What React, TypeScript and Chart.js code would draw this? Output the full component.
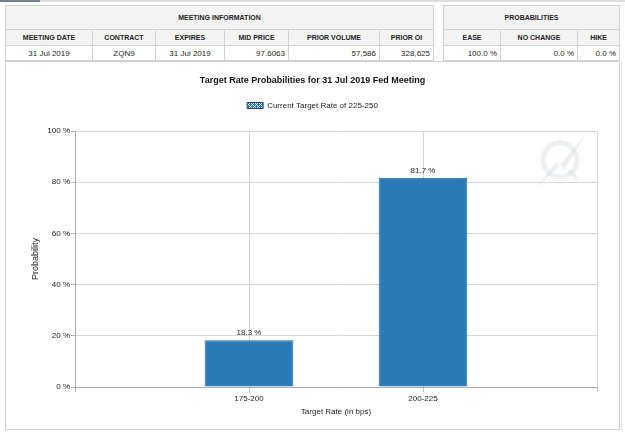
import React, { useEffect, useRef } from 'react';
import { Chart, registerables } from 'chart.js';

Chart.register(...registerables);

// ---- data ----
const rateBuckets = ['175-200', '200-225'];
const probabilities = [18.3, 81.7];
const yTickValues = [0, 20, 40, 60, 80, 100];
const chartTitle = 'Target Rate Probabilities for 31 Jul 2019 Fed Meeting';
const legendLabel = 'Current Target Rate of 225-250';
const xAxisTitle = 'Target Rate (in bps)';
const yAxisTitle = 'Probability';

const meetingHeaders = ['MEETING DATE', 'CONTRACT', 'EXPIRES', 'MID PRICE', 'PRIOR VOLUME', 'PRIOR OI'];
const meetingValues = ['31 Jul 2019', 'ZQN9', '31 Jul 2019', '97.6063', '57,586', '328,625'];
const meetingAlign = ['center', 'center', 'center', 'right', 'right', 'right'];
const probHeaders = ['EASE', 'NO CHANGE', 'HIKE'];
const probValues = ['100.0 %', '0.0 %', '0.0 %'];

const FONT = '"Liberation Sans", Arial, sans-serif';
const BAR_BLUE = '#2b7bb9';

type CellProps = {
  x: number; y: number; w: number; h: number; text: string;
  bold?: boolean; align?: string; bg?: string; size?: number;
};

const Cell = ({ x, y, w, h, text, bold, align, bg, size }: CellProps) => (
  <div
    style={{
      position: 'absolute', left: x, top: y, width: w, height: h,
      boxSizing: 'border-box', border: '1px solid #d2d2d2',
      background: bg || '#ffffff', display: 'flex', alignItems: 'center',
      justifyContent: align === 'right' ? 'flex-end' : align === 'left' ? 'flex-start' : 'center',
      padding: '0 3px', fontFamily: FONT, fontSize: size || 8, fontWeight: bold ? 700 : 400,
      color: '#1e1e1e', whiteSpace: 'nowrap', overflow: 'hidden',
    }}
  >
    {text}
  </div>
);

const leftCols = [5, 92, 155, 224, 288, 379, 434];
const rightCols = [443, 500, 577, 620];

const App = () => {
  const ref = useRef<HTMLCanvasElement>(null);

  useEffect(() => {
    const canvas = ref.current;
    if (!canvas) return;

    // hatched pattern for the legend box
    const pc = document.createElement('canvas');
    pc.width = 4; pc.height = 4;
    const pctx = pc.getContext('2d')!;
    pctx.fillStyle = '#2a70b2';
    pctx.fillRect(0, 0, 4, 4);
    pctx.fillStyle = 'rgba(255,255,255,0.9)';
    [[0, 0], [1, 1], [3, 1], [1, 3], [2, 2], [3, 3]].forEach(([px, py]) => pctx.fillRect(px, py, 1, 1));
    const pattern = canvas.getContext('2d')!.createPattern(pc, 'repeat')!;

    const labels = ['', ...rateBuckets, ''];
    const values = [null, ...probabilities, null];

    const valueLabels = {
      id: 'valueLabels',
      afterDatasetsDraw(chart: any) {
        const ctx = chart.ctx;
        const meta = chart.getDatasetMeta(0);
        ctx.save();
        ctx.font = `8px ${FONT}`;
        ctx.fillStyle = '#222222';
        ctx.textAlign = 'center';
        ctx.textBaseline = 'alphabetic';
        meta.data.forEach((el: any, i: number) => {
          const v = values[i];
          if (v === null || v === undefined) return;
          ctx.fillText(`${(v as number).toFixed(1)} %`, el.x, el.y - 5);
        });
        ctx.restore();
      },
    };

    const watermark = {
      id: 'watermark',
      beforeDatasetsDraw(chart: any) {
        const ctx = chart.ctx;
        const a = chart.chartArea;
        const cx = a.right - 37;
        const cy = a.top + 29;
        ctx.save();
        ctx.strokeStyle = 'rgba(214,219,227,0.45)';
        ctx.lineWidth = 5;
        ctx.beginPath();
        ctx.arc(cx, cy, 17, 0, Math.PI * 2);
        ctx.stroke();
        ctx.lineWidth = 4;
        ctx.beginPath();
        ctx.moveTo(cx + 9, cy + 10);
        ctx.lineTo(cx + 16, cy + 18);
        ctx.stroke();
        ctx.fillStyle = 'rgba(212,217,225,0.45)';
        ctx.beginPath();
        ctx.moveTo(cx - 24, cy + 28);
        ctx.lineTo(cx - 4, cy + 2);
        ctx.lineTo(cx - 1, cy + 6);
        ctx.lineTo(cx + 26, cy - 26);
        ctx.lineTo(cx + 4, cy + 10);
        ctx.lineTo(cx + 1, cy + 5);
        ctx.closePath();
        ctx.fill();
        ctx.restore();
      },
    };

    const chart = new Chart(canvas, {
      type: 'bar',
      data: {
        labels,
        datasets: [
          {
            label: 'Probability',
            data: values,
            backgroundColor: BAR_BLUE,
            borderColor: '#1f67a3',
            borderWidth: 1,
            barPercentage: 0.51,
            categoryPercentage: 1,
          },
        ],
      },
      options: {
        responsive: false,
        animation: false,
        devicePixelRatio: 1,
        layout: { padding: { top: 62, left: 28, right: 28, bottom: 0 } },
        plugins: {
          tooltip: { enabled: false },
          title: {
            display: true,
            text: chartTitle,
            color: '#111111',
            font: { family: FONT, size: 9, weight: 'bold' },
            padding: { top: 13, bottom: 5.7 },
          },
          legend: {
            display: true,
            position: 'top',
            labels: {
              font: { family: FONT, size: 8 },
              color: '#222222',
              boxWidth: 16,
              boxHeight: 6,
              padding: 10,
              generateLabels: () => [
                {
                  text: legendLabel,
                  fillStyle: pattern as any,
                  strokeStyle: '#17426e',
                  lineWidth: 1,
                  hidden: false,
                  datasetIndex: 0,
                  fontColor: '#222222',
                } as any,
              ],
            },
          },
          subtitle: {
            display: true,
            text: '',
            weight: 500,
            font: { family: FONT, size: 1 },
            padding: { top: 10.3, bottom: 0 },
          } as any,
        },
        scales: {
          x: {
            type: 'category',
            offset: false,
            afterFit: (scale: any) => { scale.height = 46; },
            grid: { offset: false, color: '#d6d6d6', tickColor: '#c4c4c4', tickLength: 5, drawOnChartArea: true },
            border: { color: '#aaaaaa' },
            ticks: { font: { family: FONT, size: 8 }, color: '#222222', padding: 2, maxRotation: 0, autoSkip: false },
            title: {
              display: true, text: xAxisTitle, color: '#222222',
              font: { family: FONT, size: 8 }, padding: { top: 0, bottom: 16.2 },
            },
          },
          y: {
            type: 'linear',
            min: 0,
            max: 100,
            afterFit: (scale: any) => { scale.width = 47; },
            afterBuildTicks: (scale: any) => { scale.ticks = yTickValues.map((v) => ({ value: v })); },
            grid: { color: '#d6d6d6', tickColor: '#b4b4b4', tickLength: 4 },
            border: { color: '#aaaaaa' },
            ticks: {
              font: { family: FONT, size: 8 }, color: '#222222', padding: 1,
              callback: (v: any) => `${v} %`,
            },
            title: {
              display: true, text: yAxisTitle, color: '#222222',
              font: { family: FONT, size: 9 }, padding: { top: 2.6, bottom: 0 },
            },
          },
        },
      },
      plugins: [valueLabels, watermark],
    });

    return () => chart.destroy();
  }, []);

  const leftHeaderCells = meetingHeaders.map((t, i) => (
    <Cell key={'mh' + i} x={leftCols[i]} y={29} w={leftCols[i + 1] - leftCols[i] + (i < 5 ? 1 : 0)} h={17}
      text={t} bold size={7} bg="#f3f3f3" />
  ));
  const leftValueCells = meetingValues.map((t, i) => (
    <Cell key={'mv' + i} x={leftCols[i]} y={45} w={leftCols[i + 1] - leftCols[i] + (i < 5 ? 1 : 0)} h={16}
      text={t} align={meetingAlign[i]} />
  ));
  const rightHeaderCells = probHeaders.map((t, i) => (
    <Cell key={'ph' + i} x={rightCols[i]} y={29} w={rightCols[i + 1] - rightCols[i] + (i < 2 ? 1 : 0)} h={17}
      text={t} bold size={7} bg="#f3f3f3" />
  ));
  const rightValueCells = probValues.map((t, i) => (
    <Cell key={'pv' + i} x={rightCols[i]} y={45} w={rightCols[i + 1] - rightCols[i] + (i < 2 ? 1 : 0)} h={16}
      text={t} align="right" />
  ));

  return (
    <div style={{ position: 'absolute', left: 0, top: 0, width: 625, height: 433, background: '#ffffff', overflow: 'hidden' }}>
      {/* tab strip */}
      <div style={{ position: 'absolute', left: 0, top: 0, width: 625, height: 2, background: '#dcdcdc' }} />
      <div style={{ position: 'absolute', left: 0, top: 0, width: 40, height: 2, background: '#6f7f90' }} />
      {/* tables */}
      <Cell x={5} y={5} w={429} h={25} text="MEETING INFORMATION" bold size={7} bg="#f3f3f3" />
      {leftHeaderCells}
      {leftValueCells}
      <Cell x={443} y={5} w={177} h={25} text="PROBABILITIES" bold size={7} bg="#f3f3f3" />
      {rightHeaderCells}
      {rightValueCells}
      {/* chart panel */}
      <div style={{ position: 'absolute', left: 5, top: 61, width: 615, height: 369, boxSizing: 'border-box', border: '1px solid #cfcfcf' }} />
      <div style={{ position: 'absolute', left: 621, top: 61, width: 1, height: 369, background: '#e4e4e4' }} />
      <canvas ref={ref} width={625} height={433}
        style={{ position: 'absolute', left: 0, top: 0, width: 625, height: 433, zIndex: 1 }} />
    </div>
  );
};

export default App;
